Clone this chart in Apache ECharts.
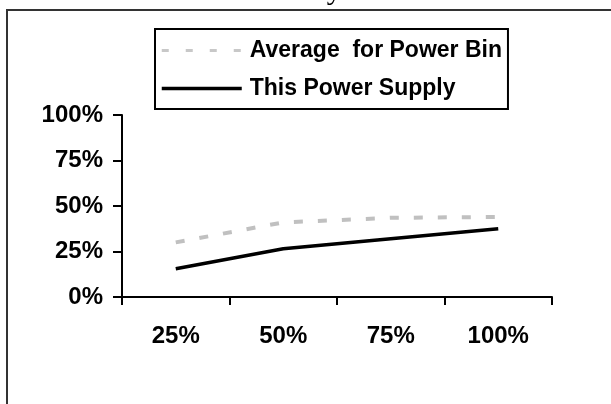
<!DOCTYPE html>
<html>
<head>
<meta charset="utf-8">
<script src="https://cdn.jsdelivr.net/npm/echarts@6/dist/echarts.min.js"></script>
<style>
  html, body { margin: 0; padding: 0; background: #fff; }
  #main { width: 611px; height: 404px; }
</style>
</head>
<body>
<div id="main"></div>
<script>
// load levels on the x axis
var categories = ['25%', '50%', '75%', '100%'];
// efficiency values, in percent
var averageBin = [30, 41, 43.5, 44];
var thisSupply = [15.5, 26.5, 32, 37.5];
var yTicks = [0, 25, 50, 75, 100];

var chartDom = document.getElementById('main');
var myChart = echarts.init(chartDom);
var option;

var boldFont = 'Liberation Sans, Arial, sans-serif';

option = {
    animation: false,
    graphic: [
        {
            type: 'rect',
            z: -1,
            shape: { x: 7, y: 10, width: 700, height: 500 },
            style: { fill: 'none', stroke: '#333', lineWidth: 2 }
        },
        {
            type: 'text',
            x: 320,
            y: -8.5,
            style: {
                text: 'Efficiency Curve',
                font: '30px "Liberation Serif", "Times New Roman", serif',
                fill: '#000',
                align: 'center',
                verticalAlign: 'middle'
            }
        }
    ],
    legend: {
        orient: 'vertical',
        left: 155,
        top: 29,
        padding: [10, 6, 9, 5],
        itemGap: 15,
        itemWidth: 80,
        itemHeight: 14,
        borderColor: '#000',
        borderWidth: 2,
        itemStyle: { opacity: 0 },
        textStyle: {
            fontFamily: boldFont,
            fontWeight: 'bold',
            fontSize: 23,
            color: '#000',
            padding: [0, 0, 0, 3]
        },
        data: [
            { name: 'Average  for Power Bin', lineStyle: { color: '#c8c8c8', width: 3, type: [7, 17] } },
            { name: 'This Power Supply', lineStyle: { color: '#000', width: 3.5 } }
        ]
    },
    grid: {
        left: 122,
        right: 59,
        top: 115,
        bottom: 107,
        containLabel: false
    },
    xAxis: {
        type: 'category',
        data: categories,
        boundaryGap: true,
        axisLine: { lineStyle: { color: '#000', width: 2 } },
        axisTick: { show: true, inside: false, length: 8, alignWithLabel: false, lineStyle: { color: '#000', width: 2 } },
        axisLabel: {
            margin: 27,
            color: '#000',
            fontFamily: boldFont,
            fontWeight: 'bold',
            fontSize: 24
        },
        splitLine: { show: false }
    },
    yAxis: {
        type: 'value',
        min: 0,
        max: 100,
        interval: 25,
        axisLine: { show: true, lineStyle: { color: '#000', width: 2 } },
        axisTick: { show: true, inside: false, length: 9, lineStyle: { color: '#000', width: 2 } },
        axisLabel: {
            margin: 19,
            color: '#000',
            fontFamily: boldFont,
            fontWeight: 'bold',
            fontSize: 24,
            formatter: function (v) {
                return yTicks.indexOf(v) >= 0 ? v + '%' : '';
            }
        },
        splitLine: { show: false }
    },
    series: [
        {
            name: 'Average  for Power Bin',
            type: 'line',
            data: averageBin,
            symbol: 'none',
            color: '#c0c0c0',
            lineStyle: { color: '#c0c0c0', width: 4, type: [9, 15] }
        },
        {
            name: 'This Power Supply',
            type: 'line',
            data: thisSupply,
            symbol: 'none',
            color: '#000',
            lineStyle: { color: '#000', width: 3.5 }
        }
    ]
};

option && myChart.setOption(option);
</script>
</body>
</html>
